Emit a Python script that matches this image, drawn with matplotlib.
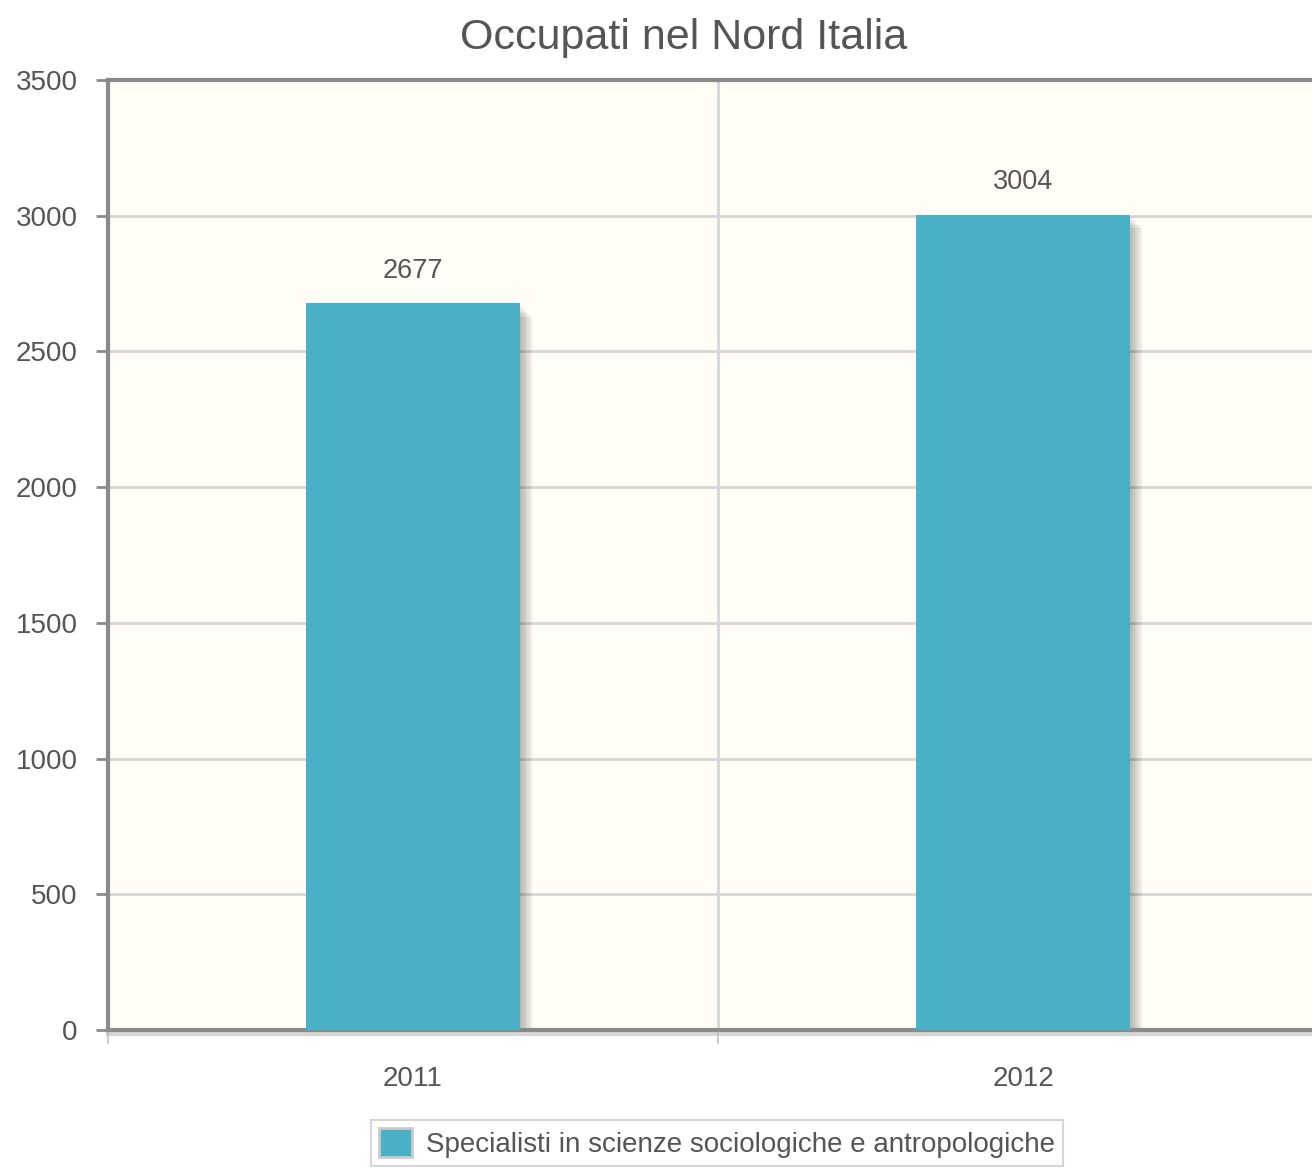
import numpy as np
import matplotlib
matplotlib.use("Agg")
import matplotlib.pyplot as plt
import matplotlib.patheffects as pe

# data
years = ["2011", "2012"]
occupati = [2677, 3004]
serie = "Specialisti in scienze sociologiche e antropologiche"
y_ticks = [0, 500, 1000, 1500, 2000, 2500, 3000, 3500]

plt.rcParams['font.family'] = ['Liberation Sans', 'DejaVu Sans']
text_col = '#555555'
bar_col = '#4ab0c5'
axis_col = '#8a8a8a'

fig = plt.figure(figsize=(13.12, 11.68), dpi=100)
fig.patch.set_facecolor('white')
# plot area runs past the right edge of the image, as in the original
ax = fig.add_axes([108/1312, 138/1168, 1220/1312, 950/1168])
ax.set_facecolor('#fffdf6')

x = np.arange(len(years))
w = 0.35

# soft shadow behind the bars
for k in range(5):
    dx = 0.004 * (k + 1)
    dy = 10 * (k + 1)
    ax.bar(x + dx, np.array(occupati) - dy, width=w, color='black', alpha=0.06,
           zorder=2, linewidth=0)

bars = ax.bar(x, occupati, width=w, color=bar_col, zorder=3, linewidth=0,
              label=serie)

for xi, v in zip(x, occupati):
    ax.annotate(str(v), (xi, v), xytext=(0, 14), textcoords='offset points',
                ha='center', va='bottom', fontsize=19.5, color=text_col)

ax.set_xlim(-0.5, len(years) - 0.5)
ax.set_ylim(0, 3500)
ax.set_yticks(y_ticks)
ax.set_yticklabels([str(t) for t in y_ticks])
ax.set_xticks(x)
ax.set_xticklabels(years)
ax.set_xticks(np.arange(-0.5, len(years)), minor=True)

ax.tick_params(axis='y', length=9, width=2, color=axis_col, pad=13,
               labelsize=20, labelcolor=text_col)
ax.tick_params(axis='x', which='major', length=0, pad=26,
               labelsize=20, labelcolor=text_col)
ax.tick_params(axis='x', which='minor', length=10, width=1.5, color='#cccccc')

ax.grid(axis='y', color='#d6d6d6', linewidth=2, zorder=1)
ax.grid(axis='x', which='minor', color='#d6d6d6', linewidth=2, zorder=1)
ax.set_axisbelow(True)

for s in ['left', 'bottom', 'top']:
    ax.spines[s].set_color(axis_col)
    ax.spines[s].set_linewidth(3)
ax.spines['bottom'].set_path_effects([
    pe.SimpleLineShadow(offset=(0, -3), shadow_color='#bbbbbb', alpha=0.6),
    pe.Normal()])
ax.spines['right'].set_visible(False)

fig.text(684/1312, 1 - 38/1168, "Occupati nel Nord Italia", ha='center',
         va='center', fontsize=31, color=text_col)

leg = fig.legend(handles=[bars], labels=[serie], loc='upper center',
                 bbox_to_anchor=(717/1312, 1 - 1120/1168), fontsize=20,
                 frameon=True, fancybox=False, handlelength=1.2,
                 handleheight=1.2, borderpad=0.3, handletextpad=0.5,
                 borderaxespad=0, labelcolor=text_col)
leg.get_frame().set_edgecolor('#cccccc')
leg.get_frame().set_linewidth(1.5)
for p in leg.get_patches():
    p.set_edgecolor('#cccccc')
    p.set_linewidth(2)

fig.savefig("out.png", dpi=100)
